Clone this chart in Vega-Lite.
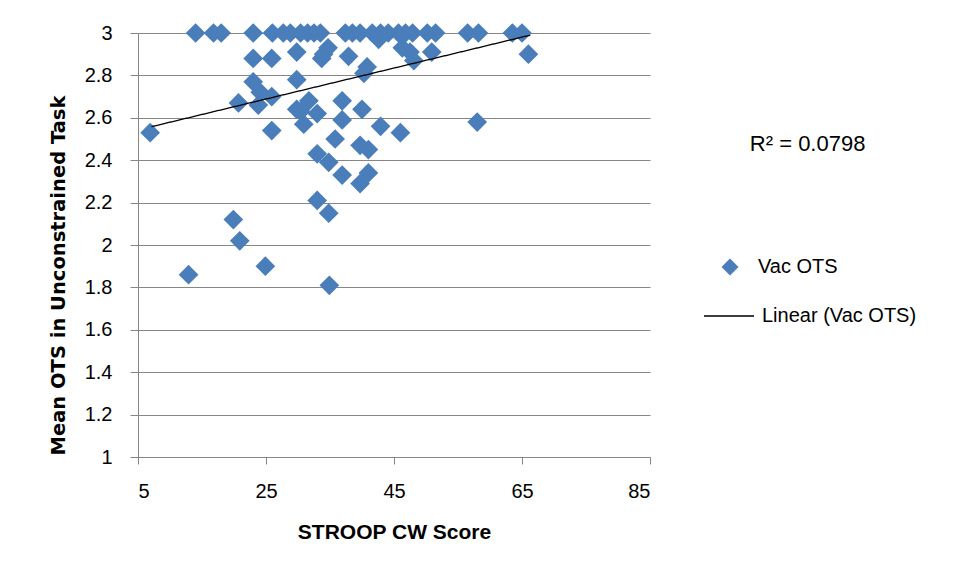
{
  "$schema": "https://vega.github.io/schema/vega-lite/v6.json",
  "autosize": {"type": "none"},
  "width": 512,
  "height": 424,
  "padding": {"left": 138, "top": 33, "right": 306, "bottom": 121},
  "background": "white",
  "config": {
    "view": {"stroke": null},
    "font": "Liberation Sans",
    "axis": {"labelFont": "Liberation Sans", "labelFontSize": 20, "labelColor": "#000000", "domainColor": "#868686", "tickColor": "#868686", "gridColor": "#868686"},
    "legend": {"labelFont": "Liberation Sans", "labelFontSize": 20, "labelColor": "#000000", "padding": 0}
  },
  "datasets": {
    "pts": [
      {"stroop": 14.0, "ots": 3}, {"stroop": 16.8, "ots": 3}, {"stroop": 18.0, "ots": 3}, {"stroop": 23.0, "ots": 3},
      {"stroop": 26.0, "ots": 3}, {"stroop": 27.7, "ots": 3}, {"stroop": 28.8, "ots": 3}, {"stroop": 30.4, "ots": 3},
      {"stroop": 31.5, "ots": 3}, {"stroop": 32.5, "ots": 3}, {"stroop": 33.5, "ots": 3}, {"stroop": 37.4, "ots": 3},
      {"stroop": 38.5, "ots": 3}, {"stroop": 39.7, "ots": 3}, {"stroop": 41.6, "ots": 3}, {"stroop": 42.9, "ots": 3},
      {"stroop": 44.1, "ots": 3}, {"stroop": 45.7, "ots": 3}, {"stroop": 46.8, "ots": 3}, {"stroop": 47.9, "ots": 3},
      {"stroop": 50.2, "ots": 3}, {"stroop": 51.5, "ots": 3}, {"stroop": 56.5, "ots": 3}, {"stroop": 58.2, "ots": 3},
      {"stroop": 63.5, "ots": 3}, {"stroop": 65.0, "ots": 3},
      {"stroop": 6.9, "ots": 2.53}, {"stroop": 12.9, "ots": 1.86}, {"stroop": 19.9, "ots": 2.12}, {"stroop": 20.9, "ots": 2.02},
      {"stroop": 20.7, "ots": 2.67}, {"stroop": 23.0, "ots": 2.88}, {"stroop": 23.0, "ots": 2.77}, {"stroop": 24.1, "ots": 2.72},
      {"stroop": 25.9, "ots": 2.70}, {"stroop": 23.8, "ots": 2.66}, {"stroop": 24.9, "ots": 1.90}, {"stroop": 25.9, "ots": 2.88},
      {"stroop": 25.9, "ots": 2.54}, {"stroop": 29.8, "ots": 2.91}, {"stroop": 29.8, "ots": 2.78}, {"stroop": 31.7, "ots": 2.68},
      {"stroop": 29.8, "ots": 2.64}, {"stroop": 30.4, "ots": 2.63}, {"stroop": 33.0, "ots": 2.62}, {"stroop": 30.9, "ots": 2.57},
      {"stroop": 34.0, "ots": 2.90}, {"stroop": 34.7, "ots": 2.93}, {"stroop": 33.7, "ots": 2.88}, {"stroop": 37.9, "ots": 2.89},
      {"stroop": 36.9, "ots": 2.68}, {"stroop": 36.9, "ots": 2.59}, {"stroop": 35.8, "ots": 2.50}, {"stroop": 33.0, "ots": 2.43},
      {"stroop": 34.8, "ots": 2.39}, {"stroop": 36.9, "ots": 2.33}, {"stroop": 33.0, "ots": 2.21}, {"stroop": 34.8, "ots": 2.15},
      {"stroop": 34.9, "ots": 1.81}, {"stroop": 40.3, "ots": 2.81}, {"stroop": 40.8, "ots": 2.84}, {"stroop": 40.0, "ots": 2.64},
      {"stroop": 39.7, "ots": 2.47}, {"stroop": 41.0, "ots": 2.45}, {"stroop": 41.0, "ots": 2.34}, {"stroop": 39.7, "ots": 2.29},
      {"stroop": 42.6, "ots": 2.97}, {"stroop": 42.9, "ots": 2.56}, {"stroop": 46.3, "ots": 2.93}, {"stroop": 47.5, "ots": 2.91},
      {"stroop": 48.1, "ots": 2.87}, {"stroop": 50.9, "ots": 2.91}, {"stroop": 46.0, "ots": 2.53}, {"stroop": 58.0, "ots": 2.58},
      {"stroop": 66.0, "ots": 2.90}
    ],
    "trend": [
      {"stroop": 7.1, "ots": 2.558, "series": "Linear (Vac OTS)"},
      {"stroop": 66.3, "ots": 2.99, "series": "Linear (Vac OTS)"}
    ],
    "note": [
      {"stroop": 100.6, "ots": 2.478, "label": "R² = 0.0798"}
    ]
  },
  "layer": [
    {
      "data": {"name": "pts"},
      "transform": [{"calculate": "'Vac OTS'", "as": "series"}],
      "mark": {"type": "point", "filled": true, "opacity": 1, "size": 390, "color": "#4a7ebb"},
      "encoding": {
        "x": {
          "field": "stroop", "type": "quantitative",
          "scale": {"domain": [5, 85], "nice": false, "zero": false},
          "axis": {"values": [5, 25, 45, 65, 85], "grid": false, "tickSize": 7, "labelPadding": 17,
                   "title": "STROOP CW Score", "titleFont": "Liberation Sans", "titleFontSize": 21, "titleFontWeight": "bold", "titleColor": "#000000", "titlePadding": 20}
        },
        "y": {
          "field": "ots", "type": "quantitative",
          "scale": {"domain": [1, 3], "nice": false, "zero": false},
          "axis": {"values": [1, 1.2, 1.4, 1.6, 1.8, 2, 2.2, 2.4, 2.6, 2.8, 3], "format": "~g", "grid": true, "tickSize": 8, "labelPadding": 18,
                   "title": "Mean OTS in Unconstrained Task", "titleFont": "DejaVu Sans", "titleFontSize": 19.5, "titleFontWeight": "bold", "titleColor": "#000000",
                   "titleX": -80, "titleY": 242, "titleAngle": -90, "titleAlign": "center", "titleBaseline": "middle"}
        },
        "shape": {
          "field": "series", "type": "nominal",
          "scale": {"domain": ["Vac OTS"], "range": ["diamond"]},
          "legend": {"title": null, "orient": "none", "legendX": 582, "legendY": 224, "symbolSize": 289, "symbolFillColor": "#4a7ebb", "symbolStrokeWidth": 0, "labelOffset": 18}
        }
      }
    },
    {
      "data": {"name": "trend"},
      "mark": {"type": "line", "color": "#000000", "strokeWidth": 1.3},
      "encoding": {
        "x": {"field": "stroop", "type": "quantitative"},
        "y": {"field": "ots", "type": "quantitative"},
        "strokeDash": {
          "field": "series", "type": "nominal",
          "scale": {"domain": ["Linear (Vac OTS)"], "range": [[1, 0]]},
          "legend": {"title": null, "orient": "none", "legendX": 565, "legendY": 257, "symbolType": "stroke", "symbolSize": 2500, "symbolStrokeColor": "#000000", "symbolStrokeWidth": 1.3, "labelOffset": 7}
        }
      }
    },
    {
      "data": {"name": "note"},
      "mark": {"type": "text", "align": "left", "baseline": "middle", "font": "Liberation Sans", "fontSize": 22, "color": "#000000"},
      "encoding": {
        "x": {"field": "stroop", "type": "quantitative"},
        "y": {"field": "ots", "type": "quantitative"},
        "text": {"field": "label"}
      }
    }
  ]
}
